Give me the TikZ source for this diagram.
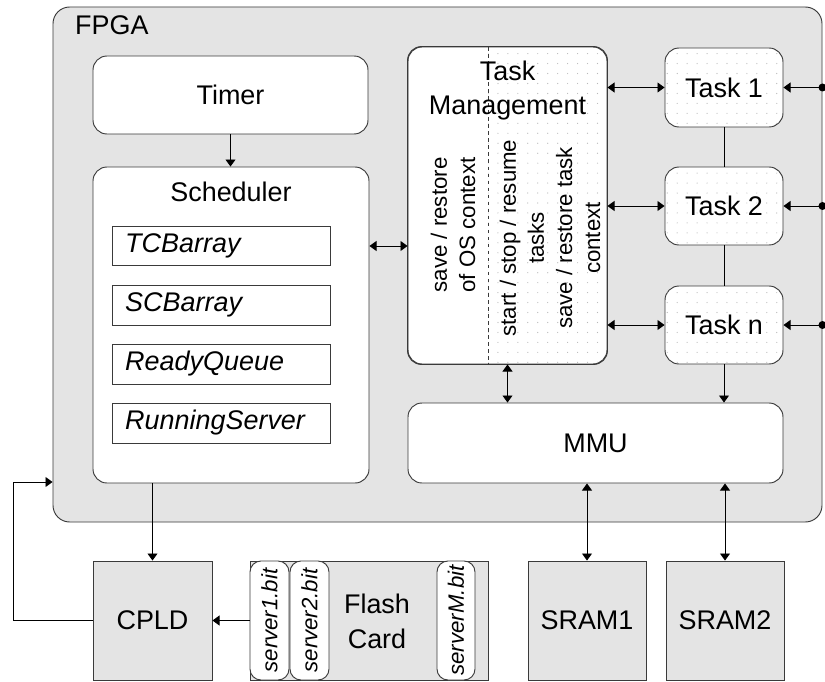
\documentclass[tikz,border=0pt]{standalone}
\usepackage{fontspec}
\setmainfont{Liberation Sans}
\usetikzlibrary{fit,arrows.meta,patterns.meta,calc}
\definecolor{linec}{HTML}{3A3A3A}
\definecolor{boxg}{HTML}{E4E4E4}
\definecolor{dotc}{HTML}{B8B8B8}
\tikzdeclarepattern{
  name=sdots,
  type=uncolored,
  bounding box={(-0.6pt,-0.6pt) and (0.6pt,0.6pt)},
  tile size={(8.5pt,8.5pt)},
  code={\pgfpathcircle{\pgfpointorigin}{0.5pt}\pgfusepath{fill}}
}
\begin{document}
\begin{tikzpicture}[x=0.03cm,y=-0.03cm,
  lbl/.style={font=\fontsize{23}{27}\selectfont},
  ilbl/.style={font=\fontsize{23}{27}\selectfont\itshape},
  rlbl/.style={font=\fontsize{19}{24}\selectfont, rotate=90, align=center},
  blbl/.style={font=\fontsize{19}{22}\selectfont\itshape, rotate=90},
  rbox/.style={draw=linec, fill=white, rounded corners=0.42cm, inner sep=0pt, line width=0.8pt},
  dbox/.style={rbox, postaction={pattern=sdots, pattern color=dotc}},
  ibox/.style={draw=linec, fill=white, inner sep=0pt, line width=0.8pt},
  gbox/.style={draw=linec, fill=boxg, inner sep=0pt, line width=0.8pt},
  bitbox/.style={draw=linec, fill=white, rounded corners=0.33cm, inner sep=0pt, line width=0.8pt},
  ctext/.style={label={[lbl]center:#1}},
  tip/.tip={Triangle[length=6pt,width=8.5pt]},
  arr/.style={-tip, line width=0.8pt},
  darr/.style={tip-tip, line width=0.8pt},
  ln/.style={line width=0.8pt},
]
\useasboundingbox (0,0) rectangle (825,681);
\fill[white] (0,0) rectangle (825,681);

% FPGA container
\node[draw=linec, fill=boxg, rounded corners=0.5cm, inner sep=0pt, line width=0.8pt, fit={(53,7) (822,522)}] (fpga) {};
\node[lbl, anchor=base west, inner sep=0pt] (fpgaT) at (75,35) {FPGA};

% Timer and scheduler
\node[rbox, ctext=Timer, fit={(93,56) (368,134)}] (timer) {};
\node[rbox, fit={(93,167) (369,483)}] (sched) {};
\node[lbl] (schedT) at (231,192) {Scheduler};
\node[ibox, fit={(112,226) (330,265)}] (tcb) {};
\node[ilbl, anchor=west, inner sep=0pt] (tcbT) at (125,245.5) {TCBarray};
\node[ibox, fit={(112,285) (330,325)}] (scb) {};
\node[ilbl, anchor=west, inner sep=0pt] (scbT) at (125,305) {SCBarray};
\node[ibox, fit={(112,344) (330,384)}] (rq) {};
\node[ilbl, anchor=west, inner sep=0pt] (rqT) at (125,364) {ReadyQueue};
\node[ibox, fit={(112,403) (330,443)}] (rs) {};
\node[ilbl, anchor=west, inner sep=0pt] (rsT) at (125,423) {RunningServer};

% Task management
\node[rbox, fit={(408,47) (607,364)}] (tm) {};
\begin{scope}
  \clip[rounded corners=0.42cm] (tm.north west) rectangle (tm.south east);
  \fill[pattern=sdots, pattern color=dotc] (488,40) rectangle (615,370);
\end{scope}
\draw[linec, dashed, line width=0.5pt] (488,47) -- (488,364);
\draw[linec, rounded corners=0.42cm, line width=0.8pt] (tm.north west) rectangle (tm.south east);
\node[lbl, align=center, font=\fontsize{23}{29}\selectfont] (tmT) at (507.5,91) {Task\\Management};
\node[rlbl] (tmL) at (453,225) {save / restore\\of OS context};
\node[rlbl] (tmR) at (550,238) {start / stop / resume\\tasks\\save / restore task\\context};

% Tasks
\node[dbox, ctext={Task 1}, fit={(665,48) (783,127)}] (t1) {};
\node[dbox, ctext={Task 2}, fit={(665,167) (783,245)}] (t2) {};
\node[dbox, ctext={Task n}, fit={(665,286) (783,364)}] (tn) {};

% MMU
\node[rbox, ctext=MMU, fit={(408,403) (783,483)}] (mmu) {};

% external boxes
\node[gbox, ctext=CPLD, fit={(93,561) (212,680)}] (cpld) {};
\node[gbox, fit={(250,561) (488,680)}] (flash) {};
\node[lbl, align=center, font=\fontsize{23}{30}\selectfont] (flashT) at (377,621) {Flash\\Card};
\node[bitbox, fit={(250,561) (289,680)}] (s1) {};
\node[blbl] (s1T) at (s1) {server1.bit};
\node[bitbox, fit={(290,561) (329,680)}] (s2) {};
\node[blbl] (s2T) at (s2) {server2.bit};
\node[bitbox, fit={(437,561) (475,680)}] (sM) {};
\node[blbl] (sMT) at (sM) {serverM.bit};
\node[gbox, ctext=SRAM1, fit={(528,561) (646,680)}] (sram1) {};
\node[gbox, ctext=SRAM2, fit={(666,561) (784,680)}] (sram2) {};

% connectors
\draw[arr] (timer.south) -- (timer.south |- sched.north);
\draw[darr] (sched.east |- 0,246) -- (tm.west |- 0,246);
\draw[darr] (tm.east |- t1.west) -- (t1.west);
\draw[darr] (tm.east |- t2.west) -- (t2.west);
\draw[darr] (tm.east |- tn.west) -- (tn.west);
\draw[ln] (t1.south) -- (t2.north);
\draw[ln] (t2.south) -- (tn.north);
\coordinate (d1) at (fpga.east |- t1.east);
\coordinate (d2) at (fpga.east |- t2.east);
\coordinate (dn) at (fpga.east |- tn.east);
\foreach \d/\t in {d1/t1,d2/t2,dn/tn}{
  \fill (\d) circle (0.12cm);
  \draw[arr] (\d) -- (\t.east);
}
\draw[darr] (tm.south) -- (mmu.north -| tm.south);
\draw[arr] (tn.south) -- (mmu.north -| tn.south);
\draw[darr] (mmu.south -| sram1.north) -- (sram1.north);
\draw[darr] (mmu.south -| sram2.north) -- (sram2.north);
\draw[arr] (cpld.north |- sched.south) -- (cpld.north);
\draw[arr] (flash.west) -- (cpld.east);
\coordinate (fbc) at (13,482);
\coordinate (fbe) at (fpga.west |- fbc);
\draw[arr] (cpld.west) -| (fbc) -- (fbe);
\end{tikzpicture}
\end{document}
